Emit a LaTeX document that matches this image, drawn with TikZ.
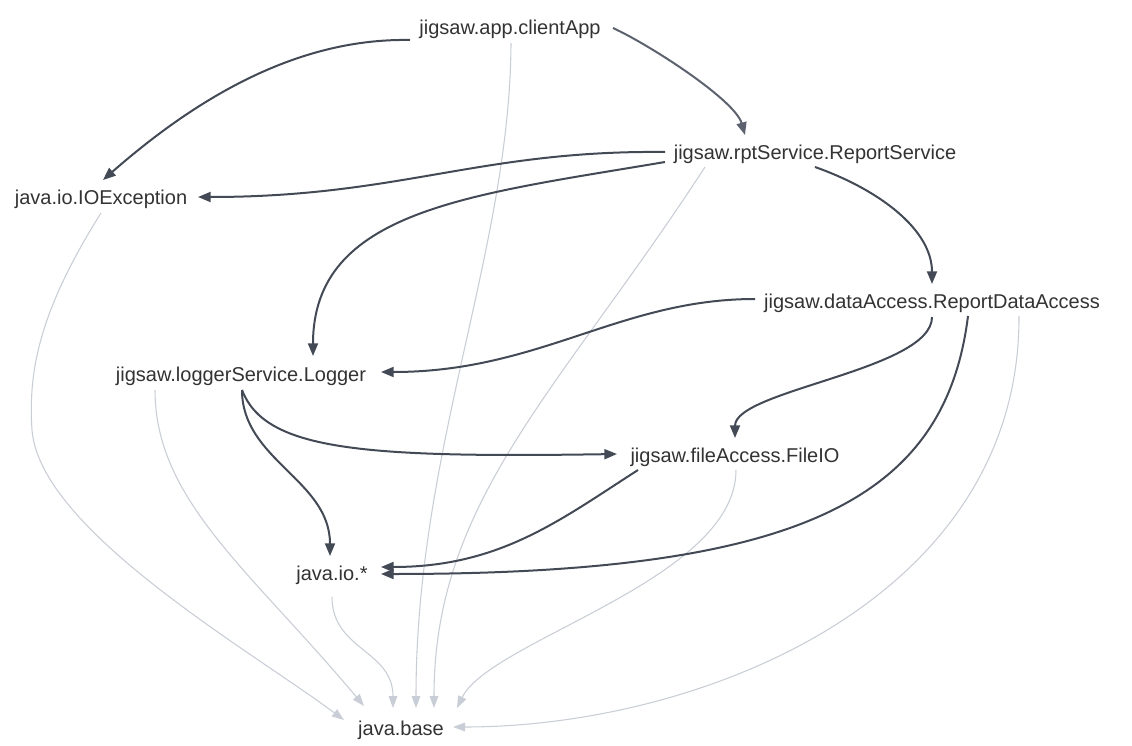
\documentclass[tikz,border=0pt]{standalone}
\usepackage{fontspec}
\setmainfont{Liberation Sans}
\usetikzlibrary{arrows.meta}
\definecolor{txt}{HTML}{333333}
\definecolor{dk}{HTML}{434A56}
\definecolor{dktwo}{HTML}{5D636E}
\definecolor{lt}{HTML}{C9CED6}
\begin{document}
\begin{tikzpicture}[x=0.75pt,y=-0.75pt,
  lbl/.style={inner sep=0pt, text=txt, font=\fontsize{15}{18}\selectfont, text height=14pt, text depth=1.2pt},
  dep/.style={draw=dk, line width=1.5pt, -{Triangle[length=9.5pt,width=7.5pt]}},
  deplight/.style={dep, draw=dktwo},
  basedep/.style={draw=lt, line width=0.8pt, -{Triangle[length=9pt,width=6.5pt]}}]
\fill[white] (0,0) rectangle (1132,746);
\useasboundingbox (0,0) rectangle (1132,746);

\node[lbl] (ca)  at (510,26)  {jigsaw.app.clientApp};
\node[lbl] (rs)  at (815,151) {jigsaw.rptService.ReportService};
\node[lbl] (ioe) at (101,196) {java.io.IOException};
\node[lbl] (rda) at (932,300) {jigsaw.dataAccess.ReportDataAccess};
\node[lbl] (lg)  at (241,373) {jigsaw.loggerService.Logger};
\node[lbl] (fio) at (735,454) {jigsaw.fileAccess.FileIO};
\node[lbl] (jio) at (332,572) {java.io.*};
\node[lbl] (jb)  at (401,727) {java.base};

% light grey dependencies on java.base
\draw[basedep] ([shift={(1,17)}]ca.center) .. controls +(-1,207) and +(0,-258) .. ([shift={(15,-19)}]jb.center);
\draw[basedep] ([shift={(-110,16)}]rs.center) .. controls +(-145,223) and +(0,-208) .. ([shift={(33,-19)}]jb.center);
\draw[basedep] ([shift={(0,17)}]ioe.center) .. controls +(-61,97) and +(-4,-60) .. (32,430)
   .. controls +(8,100) and +(-94,-70) .. ([shift={(-57,-7)}]jb.center);
\draw[basedep] ([shift={(-86,17)}]lg.center) .. controls +(0,110) and +(-114,-136) .. ([shift={(-37,-21)}]jb.center);
\draw[basedep] ([shift={(0,25)}]jio.center) .. controls +(0,53) and +(0,-58) .. ([shift={(-8,-19)}]jb.center);
\draw[basedep] ([shift={(1,16)}]fio.center) .. controls +(0,110) and +(33,-68) .. ([shift={(56,-19)}]jb.center);
\draw[basedep] ([shift={(87,16)}]rda.center) .. controls +(1,284) and +(247,0) .. ([shift={(52,0)}]jb.center);

% dark dependencies
\draw[dep] ([shift={(-100,14)}]ca.center) .. controls +(-110,-2) and +(97,-85) .. ([shift={(2,-16)}]ioe.center);
\draw[deplight] ([shift={(103,2)}]ca.center) .. controls +(37,17) and +(-10,-35) .. ([shift={(-70,-16)}]rs.center);
\draw[dep] ([shift={(-150,1)}]rs.center) .. controls +(-185,-2) and +(202,0) .. ([shift={(97,1)}]ioe.center);
\draw[dep] ([shift={(-150,11)}]rs.center) .. controls +(-195,33) and +(0,-146) .. ([shift={(72,-17)}]lg.center);
\draw[dep] ([shift={(0,16)}]rs.center) .. controls +(65,23) and +(0,-54) .. ([shift={(0,-16)}]rda.center);
\draw[dep] ([shift={(-177,-1)}]rda.center) .. controls +(-135,0) and +(159,0) .. ([shift={(140,-1)}]lg.center);
\draw[dep] ([shift={(0,17)}]rda.center) .. controls +(0,53) and +(0,-48) .. ([shift={(0,-16)}]fio.center);
\draw[dep] ([shift={(36,16)}]rda.center) .. controls +(-23,184) and +(419,0) .. ([shift={(49,2)}]jio.center);
\draw[dep] ([shift={(1,17)}]lg.center) .. controls +(23,60) and +(-257,4) .. ([shift={(-118,0)}]fio.center);
\draw[dep] ([shift={(1,17)}]lg.center) .. controls +(0,70) and +(0,-76) .. ([shift={(-2,-16)}]jio.center);
\draw[dep] ([shift={(-97,16)}]fio.center) .. controls +(-78,50) and +(119,0) .. ([shift={(49,-5)}]jio.center);
\end{tikzpicture}
\end{document}
